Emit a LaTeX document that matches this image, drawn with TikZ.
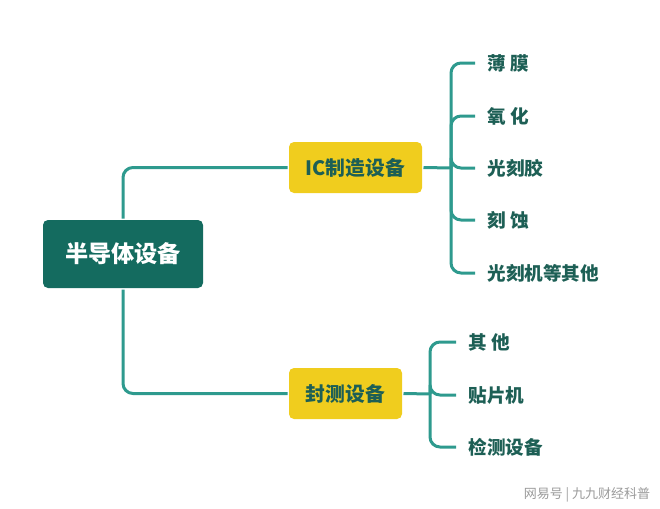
\documentclass[tikz,border=0pt]{standalone}
\usepackage{fontspec}
\setmainfont{Noto Sans CJK SC}
\usetikzlibrary{positioning,calc}
\definecolor{rootGreen}{HTML}{146B5F}
\definecolor{boxYellow}{HTML}{F0CD1E}
\definecolor{lineTeal}{HTML}{2E9A8E}
\definecolor{inkTeal}{HTML}{1D5F55}
\definecolor{markGray}{HTML}{9A9A9A}

\begin{document}
\begin{tikzpicture}[
  x=0.5pt, y=-0.5pt,
  line width=1.5pt,
  every node/.style={inner sep=3pt},
  % --- Reusable styles -------------------------------------------------------
  rootbox/.style={               % dark main box
    rectangle, rounded corners=2.5pt,
    fill=rootGreen, text=white, font=\fontsize{11.6}{13}\selectfont\bfseries,
    minimum width=80pt, minimum height=34pt, align=center,
  },
  midbox/.style={                % yellow branch box
    rectangle, rounded corners=2.5pt,
    fill=boxYellow, text=inkTeal, font=\fontsize{9.9}{11}\selectfont\bfseries,
    minimum height=25.5pt, align=center, inner xsep=0pt,
  },
  leaf/.style={anchor=west, text=inkTeal, inner xsep=5.5pt,
    font=\fontsize{9.3}{10}\selectfont\bfseries},
  branch/.style={draw=lineTeal, line width=1.5pt, rounded corners=5pt},
  srcnote/.style={text=markGray, font=\fontsize{6.5}{8}\selectfont},
]
\useasboundingbox (0,0) rectangle (660,509);

% --- Nodes -------------------------------------------------------------------
\node[rootbox]                         (root) at (123,254)   {半导体设备};
\node[midbox, minimum width=66.5pt]    (ic)   at (355.5,167.5) {IC制造设备};
\node[midbox, minimum width=56.5pt]    (pkg)  at (345.5,393.5) {封测设备};

\node[leaf] (film)   at (475,63)  {薄 膜};
\node[leaf] (oxid)   at (475,116) {氧 化};
\node[leaf] (resist) at (475,168) {光刻胶};
\node[leaf] (etch)   at (475,220) {刻 蚀};
\node[leaf] (litho)  at (475,273) {光刻机等其他};

\node[leaf] (other)  at (456,342) {其 他};
\node[leaf] (bond)   at (456,395) {贴片机};
\node[leaf] (test)   at (456,447) {检测设备};

\node[srcnote] (src) at (587,495) {网易号 | 九九财经科普};

% --- Connectors --------------------------------------------------------------
\draw[branch] (root.north) |- (ic.west);
\draw[branch] (root.south) |- (pkg.west);

\coordinate (icJoin)  at (451,168);
\coordinate (pkgJoin) at (430,394);
\draw[branch] (ic.east) -- (icJoin);
\draw[branch] (icJoin) |- (film.west);
\draw[branch] (icJoin) |- (oxid.west);
\draw[branch] (icJoin) |- (resist.west);
\draw[branch] (icJoin) |- (etch.west);
\draw[branch] (icJoin) |- (litho.west);

\draw[branch] (pkg.east) -- (pkgJoin);
\draw[branch] (pkgJoin) |- (other.west);
\draw[branch] (pkgJoin) |- (bond.west);
\draw[branch] (pkgJoin) |- (test.west);

\end{tikzpicture}
\end{document}
